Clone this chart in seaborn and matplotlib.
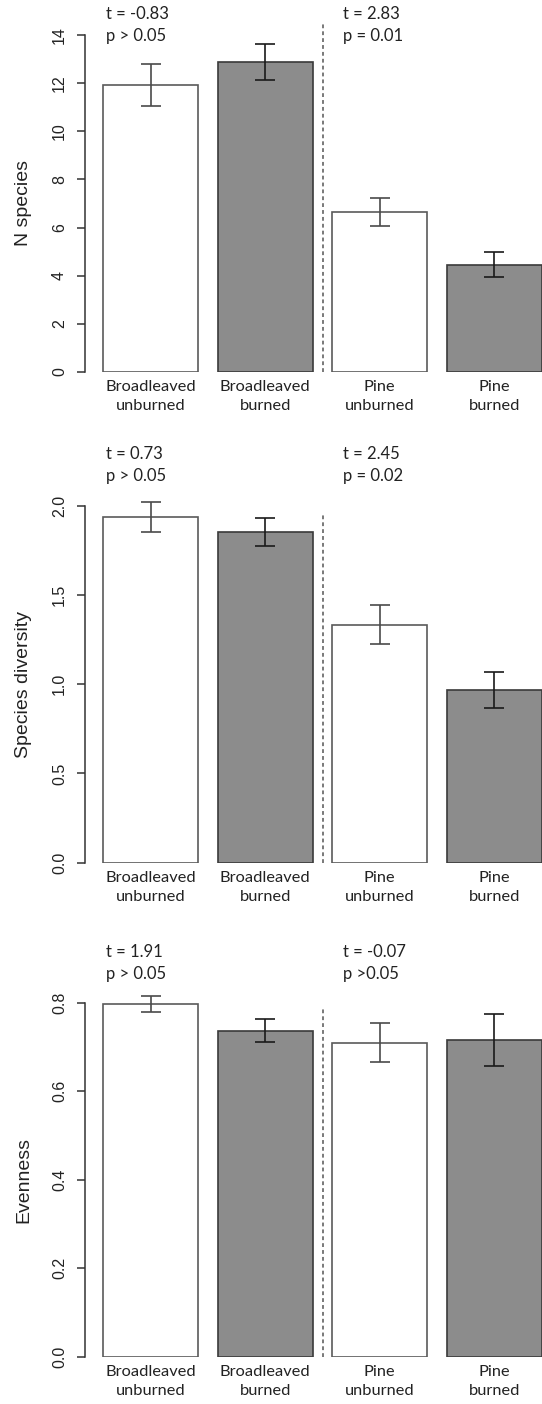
import pandas as pd
import matplotlib
matplotlib.use("Agg")
import matplotlib.pyplot as plt
import matplotlib.transforms as mtransforms
import seaborn as sns

# values
groups = ["Broadleaved\nunburned", "Broadleaved\nburned", "Pine\nunburned", "Pine\nburned"]
bar_colors = ["white", "#8c8c8c", "white", "#8c8c8c"]
edge_colors = ["#5a5a5a", "#3a3a3a", "#5a5a5a", "#3a3a3a"]
err_colors = ["#4a4a4a", "#1a1a1a", "#4a4a4a", "#1a1a1a"]

n_species = [11.92, 12.89, 6.65, 4.46]
n_species_se = [0.87, 0.75, 0.57, 0.53]
diversity = [1.937, 1.853, 1.333, 0.967]
diversity_se = [0.085, 0.078, 0.108, 0.103]
evenness = [0.798, 0.737, 0.710, 0.716]
evenness_se = [0.018, 0.026, 0.045, 0.058]

ylabels = ["N species", "Species diversity", "Evenness"]
yticks = [[0, 2, 4, 6, 8, 10, 12, 14],
          [0.0, 0.5, 1.0, 1.5, 2.0],
          [0.0, 0.2, 0.4, 0.6, 0.8]]
ytick_labels = [["0", "2", "4", "6", "8", "10", "12", "14"],
                ["0.0", "0.5", "1.0", "1.5", "2.0"],
                ["0.0", "0.2", "0.4", "0.6", "0.8"]]
divider_top = [14.5, 1.96, 0.785]

broad_t = ["t = -0.83", "t = 0.73", "t = 1.91"]
broad_p = ["p > 0.05", "p > 0.05", "p > 0.05"]
pine_t = ["t = 2.83", "t = 2.45", "t = -0.07"]
pine_p = ["p = 0.01", "p = 0.02", "p >0.05"]

means = [n_species, diversity, evenness]
ses = [n_species_se, diversity_se, evenness_se]

# layout (pixels on a 542x1404 canvas)
W, H = 542, 1404
zero_px = [372, 862.7, 1356.7]
top_tick_px = [35, 505.7, 1002.7]
text_px = [(14, 36), (454, 476), (952, 974)]
ax_left, ax_right = 85, 542
bar_width = 0.833

sns.set_style("white")
plt.rcParams["font.family"] = ["Liberation Sans", "DejaVu Sans"]
label_font = "Lato"
ink = "#222222"

fig = plt.figure(figsize=(W / 100, H / 100), dpi=100)

for i in range(3):
    ppu = (zero_px[i] - top_tick_px[i]) / yticks[i][-1]
    top_px = top_tick_px[i] - 20
    ax = fig.add_axes([ax_left / W, 1 - zero_px[i] / H,
                       (ax_right - ax_left) / W, (zero_px[i] - top_px) / H])
    df = pd.DataFrame({"group": groups, "value": means[i]})
    sns.barplot(data=df, x="group", y="value", hue="group", palette=bar_colors,
                width=bar_width, errorbar=None, legend=False, ax=ax,
                linewidth=1.2, saturation=1)
    for patch, ec in zip(ax.patches, edge_colors):
        patch.set_edgecolor(ec)
    for j in range(len(groups)):
        ax.errorbar(j, means[i][j], yerr=ses[i][j], fmt="none", ecolor=err_colors[j],
                    elinewidth=1.2, capsize=7, capthick=1.2)
    ax.vlines(1.5, 0, divider_top[i], colors="#555555", linestyles=(0, (2.5, 2)),
              linewidth=1.1)

    ax.set_xlim(-0.574, len(groups) - 1 + bar_width / 2)
    ax.set_ylim(0, (zero_px[i] - top_px) / ppu)

    ax.set_yticks(yticks[i])
    ax.set_yticklabels(ytick_labels[i], rotation=90, va="center", fontsize=11.5)
    ax.tick_params(axis="y", length=6, width=1.1, color="#333333", pad=7,
                   left=True, labelcolor=ink)
    ax.set_xticks(range(len(groups)))
    ax.set_xticklabels(groups, fontfamily=label_font, fontsize=11.8, linespacing=1.42,
                       color=ink)
    ax.tick_params(axis="x", length=0, pad=6)

    for side in ["top", "right", "bottom"]:
        ax.spines[side].set_visible(False)
    ax.spines["left"].set_bounds(yticks[i][0], yticks[i][-1])
    ax.spines["left"].set_color("#333333")
    ax.spines["left"].set_linewidth(1.1)

    ax.set_xlabel("")
    ax.set_ylabel(ylabels[i], fontsize=14, color=ink)
    trans = mtransforms.blended_transform_factory(ax.transAxes, ax.transData)
    ax.yaxis.set_label_coords((32 - ax_left) / (ax_right - ax_left),
                              yticks[i][-1] / 2, transform=trans)

    ty, py = text_px[i]
    for x_px, t_txt, p_txt in [(106, broad_t[i], broad_p[i]), (343, pine_t[i], pine_p[i])]:
        fig.text(x_px / W, 1 - ty / H, t_txt, fontfamily=label_font, fontsize=12,
                 va="center", ha="left", color=ink)
        fig.text(x_px / W, 1 - py / H, p_txt, fontfamily=label_font, fontsize=12,
                 va="center", ha="left", color=ink)

fig.savefig("out.png", dpi=100)
